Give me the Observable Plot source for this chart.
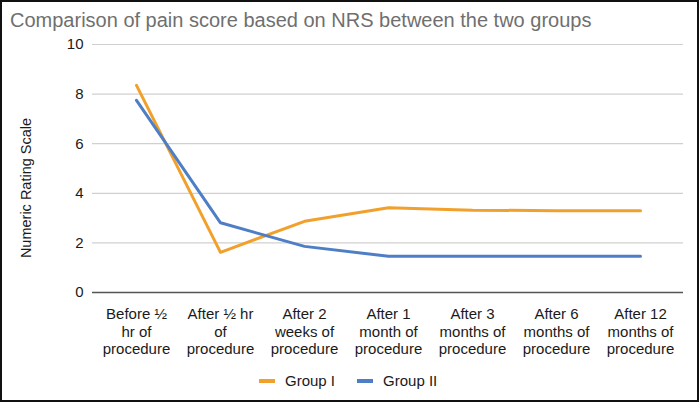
<!DOCTYPE html>
<html><head><meta charset="utf-8">
<script src="https://cdn.jsdelivr.net/npm/d3@7"></script>
<script src="https://cdn.jsdelivr.net/npm/@observablehq/plot@0.6"></script>
<style>
body{margin:0;background:#fff;}
#wrap{position:relative;width:699px;height:402px;background:#fff;font-family:"Liberation Sans",Arial,sans-serif;overflow:hidden;color:#1a1a1a}
#frame{position:absolute;left:0;top:0;width:699px;height:402px;box-sizing:border-box;border:2px solid #111;pointer-events:none}
#chart{position:absolute;left:0;top:0}
#title{position:absolute;left:10px;top:10px;font-size:20px;line-height:20px;color:#6f6f6f;white-space:nowrap}
#ylabel{position:absolute;left:26px;top:188px;transform:translate(-50%,-50%) rotate(-90deg);font-size:14.5px;white-space:nowrap;color:#1a1a1a}
#legend{position:absolute;left:259px;top:372px;display:flex;align-items:center;font-size:15px;line-height:18px;color:#1a1a1a}
#legend .item{display:flex;align-items:center;margin-right:22px}
#legend .sw{display:inline-block;width:16px;height:4px;margin-right:10px}
</style>
</head><body>
<div id="wrap">
  <div id="chart"></div>
  <div id="title">Comparison of pain score based on NRS between the two groups</div>
  <div id="ylabel">Numeric Rating Scale</div>
  <div id="legend"></div>
  <div id="frame"></div>
</div>
<script>
const categories = [
  "Before ½ hr of procedure",
  "After ½ hr of procedure",
  "After 2 weeks of procedure",
  "After 1 month of procedure",
  "After 3 months of procedure",
  "After 6 months of procedure",
  "After 12 months of procedure"
];
const tickLabels = [
  "Before ½\nhr of\nprocedure",
  "After ½ hr\nof\nprocedure",
  "After 2\nweeks of\nprocedure",
  "After 1\nmonth of\nprocedure",
  "After 3\nmonths of\nprocedure",
  "After 6\nmonths of\nprocedure",
  "After 12\nmonths of\nprocedure"
];
const groupI = [8.35, 1.62, 2.87, 3.42, 3.32, 3.30, 3.30];
const groupII = [7.75, 2.81, 1.86, 1.46, 1.46, 1.46, 1.46];
const seriesNames = ["Group I", "Group II"];
const seriesColors = ["#F1A12B", "#4E7FC6"];
const yTicks = [0, 2, 4, 6, 8, 10];

const data = categories.flatMap((c, i) => [
  {cat: c, series: seriesNames[0], value: groupI[i]},
  {cat: c, series: seriesNames[1], value: groupII[i]}
]);

const chart = Plot.plot({
  width: 699,
  height: 360,
  marginLeft: 92,
  marginRight: 16,
  marginTop: 44,
  marginBottom: 68,
  style: {fontFamily: '"Liberation Sans", Arial, sans-serif', background: "transparent", color: "#1a1a1a"},
  x: {type: "point", domain: categories, padding: 0.5, align: 0.5},
  y: {domain: [0, 10]},
  color: {domain: seriesNames, range: seriesColors},
  marks: [
    Plot.gridY(yTicks, {stroke: "#d0d0d0", strokeOpacity: 1, strokeWidth: 1.2}),
    Plot.axisY(yTicks, {tickSize: 0, tickPadding: 9, fontSize: 15, label: null, fill: "#1a1a1a"}),
    Plot.axisX({tickSize: 0, tickPadding: 14, fontSize: 15, lineHeight: 1.17, label: null, fill: "#1a1a1a",
      tickFormat: d => tickLabels[categories.indexOf(d)]}),
    Plot.ruleY([0], {stroke: "#555", strokeWidth: 1.5}),
    Plot.line(data, {x: "cat", y: "value", z: "series", stroke: "series", strokeWidth: 3})
  ]
});
document.getElementById("chart").appendChild(chart);

const legend = document.getElementById("legend");
seriesNames.forEach((name, i) => {
  const item = document.createElement("div");
  item.className = "item";
  const sw = document.createElement("span");
  sw.className = "sw";
  sw.style.background = seriesColors[i];
  const t = document.createElement("span");
  t.textContent = name;
  item.appendChild(sw);
  item.appendChild(t);
  legend.appendChild(item);
});
</script>
</body></html>
